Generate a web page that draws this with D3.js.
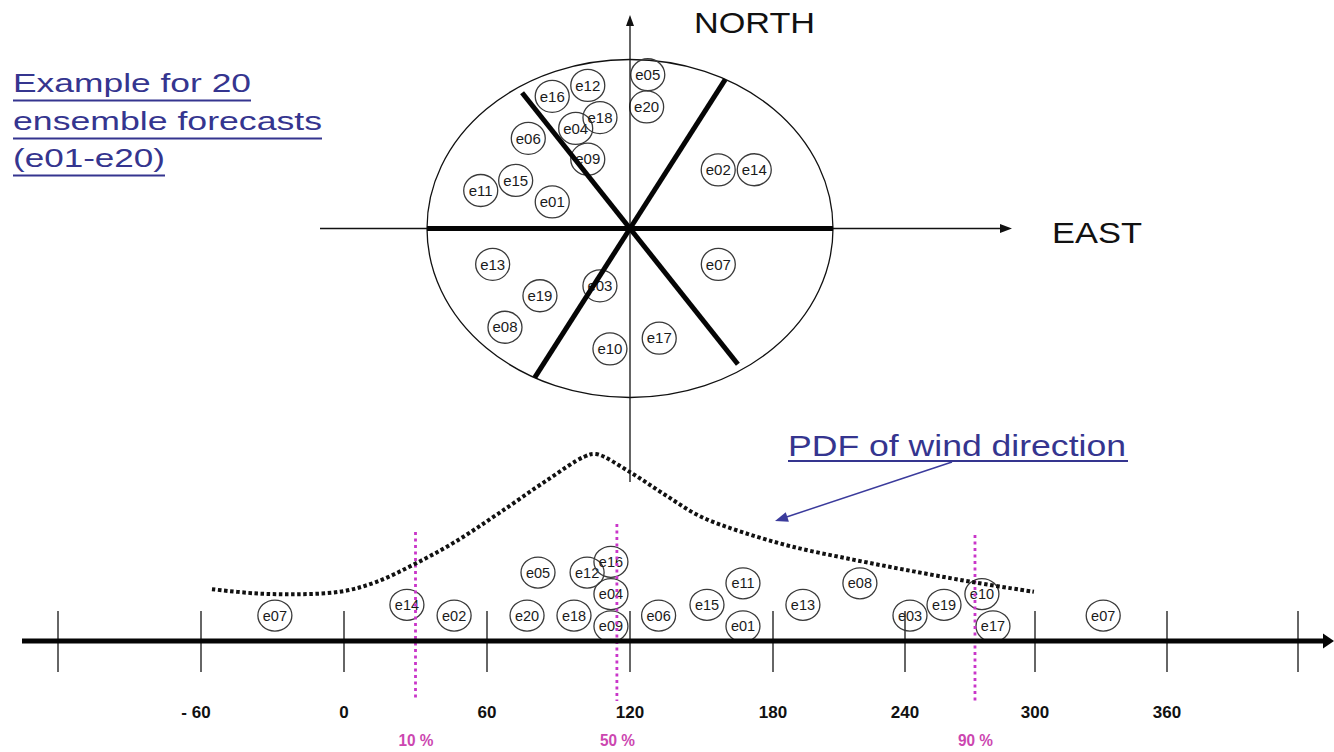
<!DOCTYPE html>
<html><head><meta charset="utf-8">
<script src="https://cdn.jsdelivr.net/npm/d3@7"></script>
<style>body{margin:0;background:#fff}svg{display:block}</style>
</head><body>
<svg id="chart" width="1334" height="752"></svg>
<script>
// ---------- DATA ----------
const members = ["e01","e02","e03","e04","e05","e06","e07","e08","e09","e10",
                 "e11","e12","e13","e14","e15","e16","e17","e18","e19","e20"];
// position of each member on the compass (angle in degrees counter-clockwise from east, distance as fraction of radius)
const compassDir  = [157.7, 38.6, 246.4, 114.3, 84.5, 133.2, 334.0, 223.5, 116.9, 262.1,
                     163.0, 103.8, 197.4, 29.6, 153.2, 116.1, 282.5, 102.7, 221.9, 83.5];
const compassDist = [0.414, 0.556, 0.370, 0.650, 0.914, 0.732, 0.484, 0.849, 0.460, 0.719,
                     0.769, 0.872, 0.709, 0.704, 0.631, 0.871, 0.665, 0.673, 0.596, 0.724];
// wind direction of each member on the lower axis (degrees)
const windDir = [167.4, 46.2, 242.3, 112, 81.4, 132, 331, 219.5, 112, 275.5,
                 167.4, 102, 193.6, 26.4, 152.3, 112, 280.6, 96.5, 258, 76.8];
// stacking row of each member in the lower dot plot
const stackRow = [0, 1, 1, 3, 5, 1, 1, 4, 0, 3, 4, 5, 2, 2, 2, 6, 0, 1, 2, 1];
// sector boundaries on the compass (degrees counter-clockwise from east) and their drawn reach
const sectorBounds = [0, 62, 123.5, 180, 242, 303.5];
const sectorReach  = [1, 1, 0.963, 1, 1, 0.963];
// PDF of wind direction (relative density)
const pdfDeg     = [-55.4, -37.5, -19, -1, 13.4, 29.4, 46.6, 64.6, 85.2, 100.7, 105.7, 120,
                    134.3, 149.4, 167.4, 188.6, 216.4, 244.6, 272.8, 299.5];
const pdfDensity = [0.277, 0.255, 0.250, 0.265, 0.315, 0.410, 0.530, 0.680, 0.860, 0.985, 1.0, 0.903,
                    0.785, 0.667, 0.581, 0.505, 0.435, 0.371, 0.312, 0.263];
// percentiles
const quantileLabels = ["10 %", "50 %", "90 %"];
const quantileDeg    = [30, 114.5, 272.3];
// axis ticks
const tickValues = [-120, -60, 0, 60, 120, 180, 240, 300, 360, 420];
const tickLabels = ["", "- 60", "0", "60", "120", "180", "240", "300", "360", ""];
const titleLines = ["Example for 20", "ensemble forecasts", "(e01-e20)"];

// ---------- LAYOUT ----------
const svg = d3.select("#chart");
const FONT = "'Liberation Sans', Arial, sans-serif";
const blue = "#35358f";
const cx = 630, cy = 228.5;
const rX = d3.scaleLinear().domain([0, 1]).range([0, 203]);
const rY = d3.scaleLinear().domain([0, 1]).range([0, 169]);
function polar(a, r) {
  const t = a * Math.PI / 180;
  return [cx + rX(r) * Math.cos(t), cy - rY(r) * Math.sin(t)];
}
const xB = d3.scaleLinear().domain(tickValues)
  .range([58, 201, 344, 487, 630, 773, 905, 1035, 1167, 1298]);
const axisY = 641;
const yDens = d3.scaleLinear().domain([0, 1]).range([axisY, 454]);
const yRow = d3.scaleLinear().domain([0, 6]).range([626.3, 561.8]);

function arrowHead(g, tipX, tipY, dx, dy, len, half, color) {
  const L = Math.hypot(dx, dy), ux = dx / L, uy = dy / L;
  const bx = tipX - ux * len, by = tipY - uy * len;
  g.append("path")
    .attr("d", `M${tipX},${tipY}L${bx - uy * half},${by + ux * half}L${bx + uy * half},${by - ux * half}Z`)
    .attr("fill", color);
}

// ---------- COMPASS ----------
const comp = svg.append("g");
comp.append("ellipse").attr("cx", cx).attr("cy", cy).attr("rx", rX(1)).attr("ry", rY(1))
  .attr("fill", "none").attr("stroke", "#111").attr("stroke-width", 1.3);

const cm = comp.selectAll("g.cm").data(members).join("g").attr("class", "cm")
  .attr("transform", (d, i) => { const p = polar(compassDir[i], compassDist[i]); return `translate(${p[0]},${p[1]})`; });
cm.append("ellipse").attr("rx", 17).attr("ry", 16).attr("fill", "none")
  .attr("stroke", "#3a3a3a").attr("stroke-width", 1.3);
cm.append("text").text(d => d).attr("text-anchor", "middle").attr("y", 5.2)
  .attr("font-family", FONT).attr("font-size", 15).attr("fill", "#1a1a1a");

// thin axes
comp.append("line").attr("x1", 320).attr("y1", cy).attr("x2", 1002).attr("y2", cy)
  .attr("stroke", "#111").attr("stroke-width", 1.3);
arrowHead(comp, 1012, cy, 1, 0, 12, 4.5, "#111");
comp.append("line").attr("x1", cx).attr("y1", 482).attr("x2", cx).attr("y2", 24)
  .attr("stroke", "#111").attr("stroke-width", 1.3);
arrowHead(comp, cx, 15, 0, -1, 11, 4, "#111");

// thick sector boundaries
comp.selectAll("line.sector").data(sectorBounds).join("line").attr("class", "sector")
  .attr("x1", cx).attr("y1", cy)
  .attr("x2", (d, i) => polar(d, sectorReach[i])[0])
  .attr("y2", (d, i) => polar(d, sectorReach[i])[1])
  .attr("stroke", "#050505").attr("stroke-width", 5).attr("stroke-linecap", "butt");

comp.append("text").text("NORTH").attr("x", 694).attr("y", 33)
  .attr("font-family", FONT).attr("font-size", 30).attr("fill", "#111")
  .attr("textLength", 121).attr("lengthAdjust", "spacingAndGlyphs");
comp.append("text").text("EAST").attr("x", 1052).attr("y", 243)
  .attr("font-family", FONT).attr("font-size", 30).attr("fill", "#111")
  .attr("textLength", 90).attr("lengthAdjust", "spacingAndGlyphs");

// ---------- TITLE ----------
const titleLen = [238, 309, 152];
const titleBase = [92, 130, 167];
const tg = svg.append("g");
titleLines.forEach((t, i) => {
  tg.append("text").text(t).attr("x", 13).attr("y", titleBase[i])
    .attr("font-family", FONT).attr("font-size", 25).attr("fill", blue)
    .attr("textLength", titleLen[i]).attr("lengthAdjust", "spacingAndGlyphs");
  tg.append("line").attr("x1", 13).attr("x2", 13 + titleLen[i])
    .attr("y1", titleBase[i] + 8.5).attr("y2", titleBase[i] + 8.5)
    .attr("stroke", blue).attr("stroke-width", 1.8);
});

// ---------- LOWER PLOT ----------
const low = svg.append("g");
const dots = [];
members.forEach((m, i) => {
  dots.push({ name: m, dir: windDir[i], row: stackRow[i] });
  if (windDir[i] > 300) dots.push({ name: m, dir: windDir[i] - 360, row: stackRow[i] });
});
const bm = low.selectAll("g.bm").data(dots).join("g").attr("class", "bm")
  .attr("transform", d => `translate(${xB(d.dir)},${yRow(d.row)})`);
bm.append("ellipse").attr("rx", 17).attr("ry", 15.5).attr("fill", "none")
  .attr("stroke", "#3a3a3a").attr("stroke-width", 1.3);
bm.append("text").text(d => d.name).attr("text-anchor", "middle").attr("y", 5)
  .attr("font-family", FONT).attr("font-size", 14.5).attr("fill", "#1a1a1a");

// ticks
low.selectAll("line.tick").data(tickValues).join("line").attr("class", "tick")
  .attr("x1", d => xB(d)).attr("x2", d => xB(d)).attr("y1", 611).attr("y2", 672)
  .attr("stroke", "#333").attr("stroke-width", 1.5);

// percentile lines
low.selectAll("line.q").data(quantileDeg).join("line").attr("class", "q")
  .attr("x1", d => xB(d)).attr("x2", d => xB(d))
  .attr("y1", (d, i) => [532, 524, 535][i]).attr("y2", 701)
  .attr("stroke", "#c936c9").attr("stroke-width", 2.8).attr("stroke-dasharray", "3,3.5");

// axis line
low.append("line").attr("x1", 22).attr("x2", 1324).attr("y1", axisY).attr("y2", axisY)
  .attr("stroke", "#050505").attr("stroke-width", 5);
arrowHead(low, 1334, axisY, 1, 0, 11, 7.5, "#050505");

// tick labels
low.selectAll("text.tl").data(tickValues).join("text").attr("class", "tl")
  .text((d, i) => tickLabels[i])
  .attr("x", d => xB(d) + (d < 0 ? -5 : 0)).attr("y", 718)
  .attr("text-anchor", "middle").attr("font-family", FONT).attr("font-weight", "bold")
  .attr("font-size", 17).attr("fill", "#111");

// percentile labels
low.selectAll("text.ql").data(quantileDeg).join("text").attr("class", "ql")
  .text((d, i) => quantileLabels[i])
  .attr("x", d => xB(d) - 17).attr("y", 746)
  .attr("font-family", FONT).attr("font-weight", "bold").attr("font-size", 16)
  .attr("fill", "#cc46b0").attr("textLength", 35).attr("lengthAdjust", "spacingAndGlyphs");

// PDF curve
const pdfPts = pdfDeg.map((d, i) => [xB(d), yDens(pdfDensity[i])]);
low.append("path").attr("d", d3.line().curve(d3.curveCatmullRom.alpha(0.5))(pdfPts))
  .attr("fill", "none").attr("stroke", "#111").attr("stroke-width", 4)
  .attr("stroke-dasharray", "3.5,2.6");

// PDF annotation
low.append("text").text("PDF of wind direction").attr("x", 788).attr("y", 456)
  .attr("font-family", FONT).attr("font-size", 29).attr("fill", blue)
  .attr("textLength", 338).attr("lengthAdjust", "spacingAndGlyphs");
low.append("line").attr("x1", 788).attr("x2", 1128).attr("y1", 461).attr("y2", 461)
  .attr("stroke", blue).attr("stroke-width", 1.8);
low.append("line").attr("x1", 952).attr("y1", 462).attr("x2", 785).attr("y2", 517.5)
  .attr("stroke", "#3b3b9c").attr("stroke-width", 1.5);
arrowHead(low, 775, 521, -167, 55.5, 13, 5, "#3b3b9c");
</script>
</body></html>
